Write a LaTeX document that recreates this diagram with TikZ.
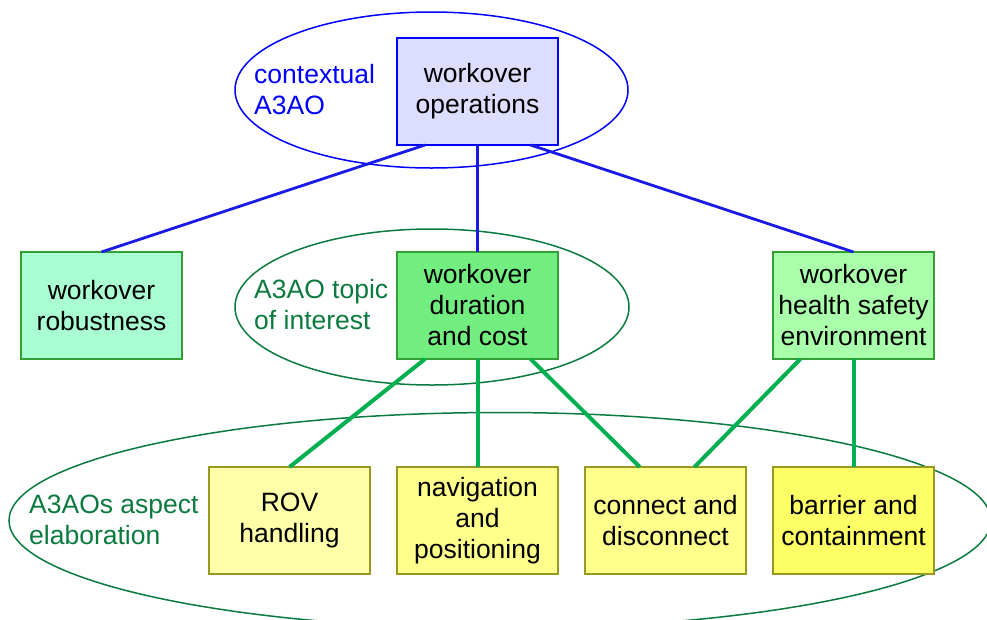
\documentclass[tikz,border=0pt]{standalone}
\usepackage{fontspec}
\setmainfont{Liberation Sans}
\usetikzlibrary{calc}

\definecolor{ctxblue}{HTML}{0000FF}
\definecolor{linkblue}{HTML}{1A1AE6}
\definecolor{darkgreen}{HTML}{0B7A3E}
\definecolor{linkgreen}{HTML}{00B050}
\definecolor{boxgreen}{HTML}{33A033}
\definecolor{boxolive}{HTML}{999922}
\definecolor{lavender}{HTML}{DDDDFF}
\definecolor{mint}{HTML}{AAFFD2}
\definecolor{brightgreen}{HTML}{72EE80}
\definecolor{palegreen}{HTML}{AAFFAA}
\definecolor{paleyellow}{HTML}{FFFFAA}
\definecolor{softyellow}{HTML}{FFFF8C}
\definecolor{deepyellow}{HTML}{FFFF66}

\tikzset{
  txt/.style={font=\fontsize{26.5}{31}\selectfont},
  topicbox/.style={txt, draw, line width=1.1pt, align=center,
    minimum width=161pt, minimum height=107pt, inner sep=0pt, outer sep=0pt},
  opsbox/.style={topicbox, draw=ctxblue, fill=lavender},
  greenbox/.style={topicbox, draw=boxgreen},
  yellowbox/.style={topicbox, draw=boxolive},
  grouplabel/.style={txt, align=left, anchor=west, inner sep=0pt},
  ring/.style={line width=1.5pt},
  bluelink/.style={draw=linkblue, line width=2.8pt},
  greenlink/.style={draw=linkgreen, line width=4pt},
}

\begin{document}
\begin{tikzpicture}[x=1pt,y=-1pt]
\clip (0,0) rectangle (987,619);

% group outlines
\draw[ring, draw=ctxblue] (431.5,90) ellipse [x radius=196.5, y radius=78];
\draw[ring, draw=darkgreen] (432,307) ellipse [x radius=197, y radius=78];
\draw[ring, draw=darkgreen] (500,520.5) ellipse [x radius=491, y radius=108];

% group labels
\node[grouplabel, text=ctxblue] (lctx) at (254,90) {contextual\\A3AO};
\node[grouplabel, text=darkgreen] (ltopic) at (254,305) {A3AO topic\\of interest};
\node[grouplabel, text=darkgreen] (laspect) at (29,520) {A3AOs aspect\\elaboration};

% boxes
\node[opsbox] (ops) at (477.5,91.5) {workover\\operations};

\node[greenbox, fill=mint] (rob) at (101.5,305.5) {workover\\robustness};
\node[greenbox, fill=brightgreen] (dur) at (477.5,305.5) {workover\\duration\\and cost};
\node[greenbox, fill=palegreen] (hse) at (853.5,305.5) {workover\\health safety\\environment};

\node[yellowbox, fill=paleyellow] (rov) at (289.5,520.5) {ROV\\handling};
\node[yellowbox, fill=softyellow] (nav) at (477.5,520.5) {navigation\\and\\positioning};
\node[yellowbox, fill=softyellow] (con) at (665.5,520.5) {connect and\\disconnect};
\node[yellowbox, fill=deepyellow] (bar) at (853.5,520.5) {barrier and\\containment};

% contextual links
\draw[bluelink] ($(ops.south west)!0.174!(ops.south east)$) -- (rob.north);
\draw[bluelink] (ops.south) -- (dur.north);
\draw[bluelink] ($(ops.south west)!0.83!(ops.south east)$) -- (hse.north);

% aspect links
\draw[greenlink] ($(dur.south west)!0.174!(dur.south east)$) -- (rov.north);
\draw[greenlink] (dur.south) -- (nav.north);
\draw[greenlink] ($(dur.south west)!0.83!(dur.south east)$) -- ($(con.north west)!0.34!(con.north east)$);
\draw[greenlink] ($(hse.south west)!0.17!(hse.south east)$) -- ($(con.north west)!0.68!(con.north east)$);
\draw[greenlink] (hse.south) -- (bar.north);
\end{tikzpicture}
\end{document}
